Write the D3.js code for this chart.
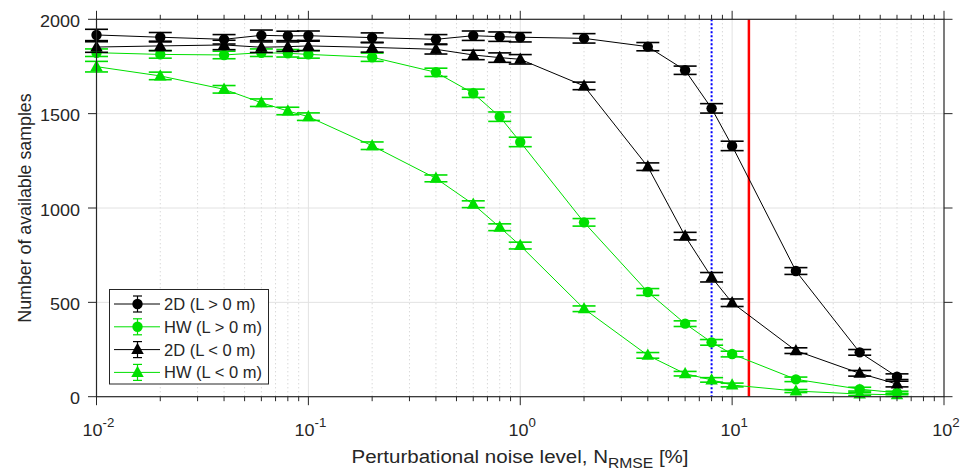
<!DOCTYPE html>
<html>
<head>
<meta charset="utf-8">
<script src="https://cdn.jsdelivr.net/npm/d3@7"></script>
<style>
  html, body { margin: 0; padding: 0; background: #fff; }
  svg { display: block; font-family: "Liberation Sans", Arial, sans-serif; }
</style>
</head>
<body>
<svg id="chart" width="965" height="472"></svg>
<script>
// Noise levels (percent) shared by every series
const noise = [0.01, 0.02, 0.04, 0.06, 0.08, 0.1, 0.2, 0.4, 0.6, 0.8, 1, 2, 4, 6, 8, 10, 20, 40, 60];

// Number of available samples per series, with error half-widths
const d2Pos = [1917, 1905, 1894, 1915, 1912, 1913, 1903, 1894, 1913, 1908, 1905, 1899, 1855, 1730, 1528, 1329, 666, 235, 106];
const d2PosErr = [30, 25, 25, 28, 25, 25, 25, 25, 25, 25, 25, 25, 22, 22, 25, 25, 18, 15, 15];
const hwPos = [1823, 1814, 1811, 1823, 1820, 1814, 1799, 1719, 1608, 1484, 1350, 924, 555, 387, 288, 226, 92, 40, 21];
const hwPosErr = [20, 20, 20, 20, 20, 20, 22, 22, 22, 25, 25, 20, 18, 15, 15, 15, 12, 10, 8];
const d2Neg = [1853, 1859, 1864, 1852, 1855, 1859, 1851, 1841, 1811, 1797, 1788, 1647, 1219, 851, 633, 498, 244, 124, 67];
const d2NegErr = [28, 25, 25, 28, 25, 25, 25, 25, 25, 25, 25, 20, 20, 20, 25, 20, 15, 15, 15];
const hwNeg = [1749, 1700, 1629, 1558, 1514, 1484, 1330, 1157, 1020, 898, 801, 466, 219, 122, 89, 62, 30, 14, 10];
const hwNegErr = [28, 20, 20, 20, 20, 20, 20, 18, 18, 18, 18, 15, 15, 12, 12, 10, 8, 8, 8];

const seriesNames = ["2D (L > 0 m)", "HW (L > 0 m)", "2D (L < 0 m)", "HW (L < 0 m)"];
const yTicks = [0, 500, 1000, 1500, 2000];
const xDecades = [-2, -1, 0, 1, 2];
const blueLimit = 8;    // dotted threshold
const redLimit = 12;    // solid threshold

const BLACK = "#000000";
const GREEN = "#00e000";
const AXIS = "#262626";

const svg = d3.select("#chart");
const m = { left: 96.5, right: 944, top: 19.3, bottom: 396.7 };

const x = d3.scaleLog().domain([0.01, 100]).range([m.left, m.right]);
const y = d3.scaleLinear().domain([0, 2000]).range([m.bottom, m.top]);

// Grid: minor x dotted, major x and y solid light
const minorTicks = [];
for (let p = -2; p < 2; p++) {
  for (let k = 2; k <= 9; k++) minorTicks.push(k * Math.pow(10, p));
}
const grid = svg.append("g");
grid.selectAll(".mg").data(minorTicks).join("line")
  .attr("x1", d => x(d)).attr("x2", d => x(d))
  .attr("y1", m.top).attr("y2", m.bottom)
  .attr("stroke", "#c8c8c8").attr("stroke-width", 1)
  .attr("stroke-dasharray", "1,3");
grid.selectAll(".xg").data(xDecades.slice(1, -1)).join("line")
  .attr("x1", d => x(Math.pow(10, d))).attr("x2", d => x(Math.pow(10, d)))
  .attr("y1", m.top).attr("y2", m.bottom)
  .attr("stroke", "#e2e2e2").attr("stroke-width", 1);
grid.selectAll(".yg").data(yTicks.slice(1, -1)).join("line")
  .attr("x1", m.left).attr("x2", m.right)
  .attr("y1", d => y(d)).attr("y2", d => y(d))
  .attr("stroke", "#e2e2e2").attr("stroke-width", 1);

// Threshold lines
svg.append("line")
  .attr("x1", x(blueLimit)).attr("x2", x(blueLimit))
  .attr("y1", m.top).attr("y2", m.bottom)
  .attr("stroke", "#0000ff").attr("stroke-width", 2)
  .attr("stroke-dasharray", "2,2");
svg.append("line")
  .attr("x1", x(redLimit)).attr("x2", x(redLimit))
  .attr("y1", m.top).attr("y2", m.bottom)
  .attr("stroke", "#ff0000").attr("stroke-width", 2.5);

// Series
const series = [
  { name: seriesNames[0], vals: d2Pos, err: d2PosErr, color: BLACK, marker: "circle" },
  { name: seriesNames[1], vals: hwPos, err: hwPosErr, color: GREEN, marker: "circle" },
  { name: seriesNames[2], vals: d2Neg, err: d2NegErr, color: BLACK, marker: "triangle" },
  { name: seriesNames[3], vals: hwNeg, err: hwNegErr, color: GREEN, marker: "triangle" }
];

const triPath = (cx, cy, s) => {
  const h = s * 0.9;
  return `M${cx},${cy - h * 0.6}L${cx + s / 2},${cy + h * 0.4}L${cx - s / 2},${cy + h * 0.4}Z`;
};

function drawMarker(g, marker, cx, cy, color) {
  if (marker === "circle") {
    g.append("circle").attr("cx", cx).attr("cy", cy).attr("r", 5.2).attr("fill", color);
  } else {
    g.append("path").attr("d", triPath(cx, cy, 12.5)).attr("fill", color);
  }
}

const line = d3.line().x(d => x(d[0])).y(d => y(d[1]));
const capW = 11.5;

series.forEach(s => {
  const g = svg.append("g");
  const pts = noise.map((n, i) => [n, s.vals[i], s.err[i]]);
  g.append("path").attr("d", line(pts)).attr("fill", "none")
    .attr("stroke", s.color).attr("stroke-width", 1);
  pts.forEach(p => {
    const cx = x(p[0]), y0 = y(p[1] - p[2]), y1 = y(p[1] + p[2]);
    g.append("line").attr("x1", cx).attr("x2", cx).attr("y1", y0).attr("y2", y1)
      .attr("stroke", s.color).attr("stroke-width", 1.4);
    [y0, y1].forEach(yy => g.append("line")
      .attr("x1", cx - capW).attr("x2", cx + capW).attr("y1", yy).attr("y2", yy)
      .attr("stroke", s.color).attr("stroke-width", 1.6));
    drawMarker(g, s.marker, cx, y(p[1]), s.color);
  });
});

// Axes frame with outward ticks
const ax = svg.append("g").attr("stroke", AXIS).attr("fill", "none");
ax.append("rect").attr("x", m.left).attr("y", m.top)
  .attr("width", m.right - m.left).attr("height", m.bottom - m.top)
  .attr("stroke-width", 1.2);
xDecades.forEach(d => {
  const px = x(Math.pow(10, d));
  ax.append("line").attr("x1", px).attr("x2", px).attr("y1", m.bottom).attr("y2", m.bottom + 8.5);
  ax.append("line").attr("x1", px).attr("x2", px).attr("y1", m.top).attr("y2", m.top - 8.5);
});
minorTicks.forEach(d => {
  const px = x(d);
  ax.append("line").attr("x1", px).attr("x2", px).attr("y1", m.bottom).attr("y2", m.bottom + 4.5);
  ax.append("line").attr("x1", px).attr("x2", px).attr("y1", m.top).attr("y2", m.top - 4.5);
});
yTicks.forEach(v => {
  const py = y(v);
  ax.append("line").attr("x1", m.left).attr("x2", m.left - 8.5).attr("y1", py).attr("y2", py);
  ax.append("line").attr("x1", m.right).attr("x2", m.right + 8.5).attr("y1", py).attr("y2", py);
});

// Tick labels (slightly widened glyphs)
svg.append("g").selectAll("g").data(yTicks).join("g")
  .attr("transform", d => `translate(80,${y(d) + 7.5}) scale(1.06,1)`)
  .append("text")
  .attr("text-anchor", "end").attr("font-size", 17).attr("fill", AXIS)
  .text(d => d);

const xl = svg.append("g").selectAll("g").data(xDecades).join("g")
  .attr("transform", d => `translate(${x(Math.pow(10, d)) + 2},436) scale(1.06,1)`)
  .append("text")
  .attr("text-anchor", "middle")
  .attr("font-size", 17).attr("fill", AXIS);
xl.append("tspan").text("10");
xl.append("tspan").attr("dy", -9).attr("font-size", 12.5).text(d => d);

// Axis titles
const xt = svg.append("g").attr("transform", "translate(520,463) scale(1.08,1)")
  .append("text")
  .attr("text-anchor", "middle").attr("font-size", 19).attr("fill", AXIS);
xt.append("tspan").text("Perturbational noise level, N");
xt.append("tspan").attr("dy", 5).attr("font-size", 14.5).text("RMSE");
xt.append("tspan").attr("dy", -5).text(" [%]");

svg.append("g")
  .attr("transform", `translate(31,${(m.top + m.bottom) / 2}) rotate(-90)`)
  .append("text")
  .attr("text-anchor", "middle").attr("font-size", 17.8).attr("fill", AXIS)
  .text("Number of available samples");

// Legend
const lg = svg.append("g");
lg.append("rect").attr("x", 109.5).attr("y", 289.5).attr("width", 159).attr("height", 94.5)
  .attr("fill", "#fff").attr("stroke", AXIS).attr("stroke-width", 1);
series.forEach((s, i) => {
  const ly = 304 + i * 22.8;
  const g = lg.append("g");
  g.append("line").attr("x1", 114).attr("x2", 160).attr("y1", ly).attr("y2", ly)
    .attr("stroke", s.color).attr("stroke-width", 1);
  g.append("line").attr("x1", 137.5).attr("x2", 137.5).attr("y1", ly - 8).attr("y2", ly + 8)
    .attr("stroke", s.color).attr("stroke-width", 1.2);
  [ly - 8, ly + 8].forEach(yy => g.append("line")
    .attr("x1", 133).attr("x2", 142).attr("y1", yy).attr("y2", yy)
    .attr("stroke", s.color).attr("stroke-width", 1.2));
  drawMarker(g, s.marker, 137.5, ly, s.color);
  g.append("text").attr("x", 164).attr("y", ly + 6)
    .attr("font-size", 16.5).attr("fill", AXIS).text(s.name);
});
</script>
</body>
</html>
